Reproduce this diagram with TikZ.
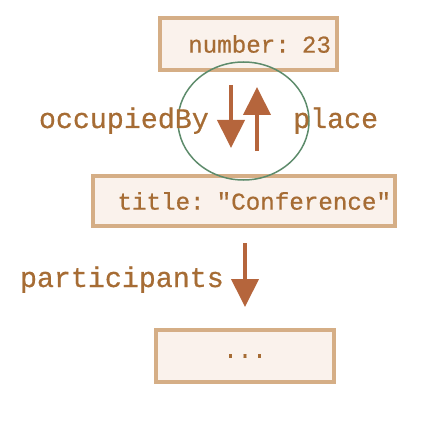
\documentclass[tikz,border=0pt]{standalone}
\usepackage{fontspec}
\setmonofont[FakeBold=0.6]{Liberation Mono}
\usetikzlibrary{arrows.meta,shapes.geometric}
\definecolor{boxline}{RGB}{213,174,134}
\definecolor{boxfill}{RGB}{250,242,236}
\definecolor{txt}{RGB}{166,108,52}
\definecolor{arr}{RGB}{181,101,60}
\definecolor{ringc}{RGB}{93,139,107}
\tikzset{
  obj/.style={draw=boxline, fill=boxfill, line width=4pt, text=txt, minimum height=52pt,
    font=\ttfamily\fontsize{24.2}{29}\selectfont},
  lbl/.style={text=txt, inner sep=0pt, font=\ttfamily\fontsize{28.3}{34}\selectfont},
  link/.style={draw=arr, line width=4pt, -{Triangle[width=27pt,length=28pt]}}
}
\begin{document}
\begin{tikzpicture}[x=1pt,y=-1pt]
  \useasboundingbox (0,0) rectangle (422,422);
  \node[obj, minimum width=177pt, text width=165pt, inner xsep=6pt, align=right] (num) at (248.5,44) {number: 23};
  \node[obj, minimum width=302pt, minimum height=50pt, text width=294pt, inner xsep=4pt, align=right] (title) at (244,201) {title: "Conference"};
  \node[obj, minimum width=178pt] (dots) at (245,356) {...};
  \node[draw=ringc, line width=1.5pt, ellipse, minimum width=131pt, minimum height=118pt] (ring) at (243.5,121) {};
  \node[lbl, anchor=base east] (occ) at (209,128) {occupiedBy};
  \node[lbl, anchor=base west] (plc) at (293,128) {place};
  \node[lbl, anchor=base east] (part) at (224,287) {participants};
  \coordinate (occA) at (231,85);
  \coordinate (occB) at (231,148);
  \coordinate (plcA) at (257,151);
  \coordinate (plcB) at (257,87);
  \coordinate (partA) at (245,243);
  \coordinate (partB) at (245,307);
  \draw[link] (occA) -- (occB);
  \draw[link] (plcA) -- (plcB);
  \draw[link] (partA) -- (partB);
\end{tikzpicture}
\end{document}
